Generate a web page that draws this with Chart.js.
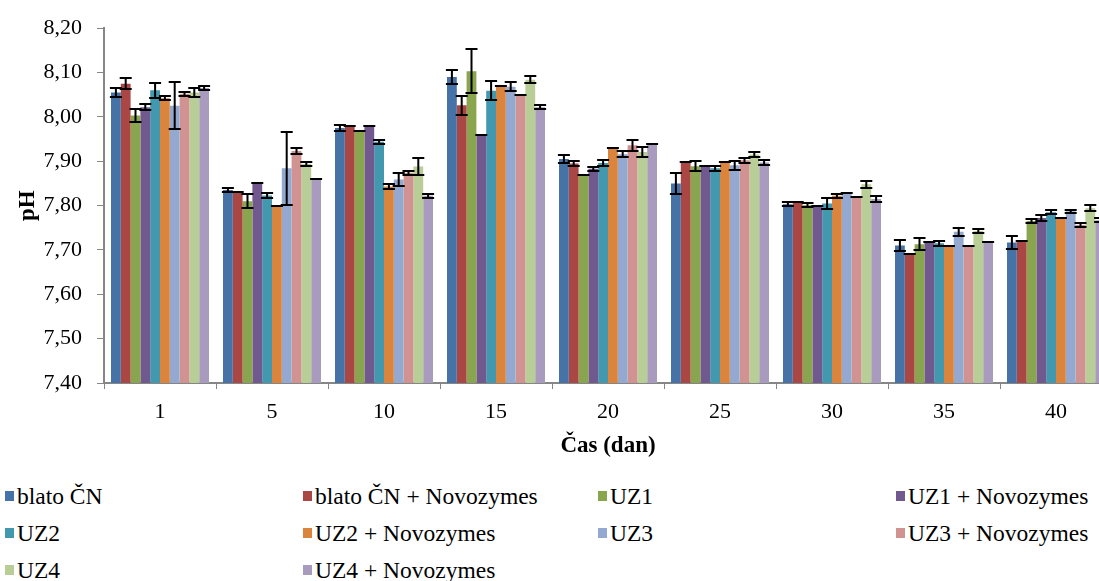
<!DOCTYPE html>
<html>
<head>
<meta charset="utf-8">
<script src="https://cdn.jsdelivr.net/npm/chart.js@4/dist/chart.umd.min.js"></script>
<style>
  html, body { margin: 0; padding: 0; background: #fff; overflow: hidden; }
  #wrap { position: absolute; left: 0; top: 0; width: 1112px; height: 470px; }
  .lg { position: absolute; font-family: 'Liberation Serif', 'Times New Roman', serif; line-height: 24px; color: #000; white-space: nowrap; }
  .mk { position: absolute; width: 9px; height: 10px; }
</style>
</head>
<body>
<div id="wrap"><canvas id="c"></canvas></div>
<div id="legend"></div>
<script>
// Sampling days
const days = ['1', '5', '10', '15', '20', '25', '30', '35', '40'];

// Series names
const seriesNames = ['blato ČN', 'blato ČN + Novozymes', 'UZ1', 'UZ1 + Novozymes', 'UZ2',
  'UZ2 + Novozymes', 'UZ3', 'UZ3 + Novozymes', 'UZ4', 'UZ4 + Novozymes'];

// Mean pH per day
const blatoCN      = [8.055, 7.835, 7.975, 8.090, 7.905, 7.850, 7.803, 7.710, 7.717];
const blatoCNNovo  = [8.075, 7.830, 7.979, 8.026, 7.895, 7.899, 7.809, 7.690, 7.720];
const uz1          = [8.003, 7.810, 7.968, 8.103, 7.868, 7.889, 7.801, 7.713, 7.765];
const uz1Novo      = [8.022, 7.850, 7.979, 7.959, 7.883, 7.889, 7.800, 7.719, 7.772];
const uz2          = [8.060, 7.823, 7.944, 8.059, 7.896, 7.884, 7.805, 7.715, 7.785];
const uz2Novo      = [8.042, 7.800, 7.843, 8.069, 7.929, 7.899, 7.822, 7.710, 7.771];
const uz3          = [8.025, 7.884, 7.859, 8.068, 7.916, 7.891, 7.829, 7.741, 7.787];
const uz3Novo      = [8.052, 7.923, 7.874, 8.049, 7.936, 7.902, 7.820, 7.710, 7.756];
const uz4          = [8.055, 7.894, 7.888, 8.084, 7.921, 7.915, 7.848, 7.743, 7.794];
const uz4Novo      = [8.065, 7.860, 7.822, 8.022, 7.939, 7.897, 7.815, 7.719, 7.767];

// Standard deviations
const errBlatoCN     = [0.011, 0.005, 0.006, 0.015, 0.010, 0.024, 0.005, 0.012, 0.015];
const errBlatoCNNovo = [0.012, 0.000, 0.000, 0.022, 0.006, 0.000, 0.000, 0.000, 0.000];
const errUz1         = [0.015, 0.016, 0.000, 0.050, 0.000, 0.011, 0.004, 0.013, 0.005];
const errUz1Novo     = [0.006, 0.000, 0.000, 0.000, 0.005, 0.000, 0.000, 0.000, 0.006];
const errUz2         = [0.017, 0.005, 0.005, 0.022, 0.006, 0.005, 0.012, 0.005, 0.005];
const errUz2Novo     = [0.005, 0.000, 0.006, 0.000, 0.000, 0.000, 0.005, 0.000, 0.000];
const errUz3         = [0.053, 0.082, 0.015, 0.010, 0.006, 0.010, 0.000, 0.009, 0.004];
const errUz3Novo     = [0.005, 0.006, 0.005, 0.000, 0.012, 0.006, 0.000, 0.000, 0.005];
const errUz4         = [0.011, 0.005, 0.020, 0.008, 0.012, 0.006, 0.008, 0.005, 0.007];
const errUz4Novo     = [0.004, 0.000, 0.005, 0.005, 0.000, 0.006, 0.006, 0.000, 0.005];

// Y axis range and step
const yMin = 7.4, yMax = 8.2, yStep = 0.1;

const values = [blatoCN, blatoCNNovo, uz1, uz1Novo, uz2, uz2Novo, uz3, uz3Novo, uz4, uz4Novo];
const errors = [errBlatoCN, errBlatoCNNovo, errUz1, errUz1Novo, errUz2, errUz2Novo, errUz3, errUz3Novo, errUz4, errUz4Novo];
const colors = ['#4572A7', '#AA4643', '#89A54E', '#71588F', '#4198AF',
  '#DB843D', '#93A9CF', '#D19392', '#B9CD96', '#A99BBD'];

const serif = "'Liberation Serif', 'Times New Roman', serif";

// Pick a font size so that a sample string spans the wanted width
const probe = document.createElement('canvas').getContext('2d');
function fitSize(text, width, weight, maxSize) {
  probe.font = (weight || 'normal') + ' 100px ' + serif;
  const s = 100 * width / probe.measureText(text).width;
  return Math.min(maxSize, Math.round(s * 2) / 2);
}
const tickSize   = fitSize('8,20', 40, 'normal', 22);
const titleSize  = fitSize('Čas (dan)', 97, 'bold', 23);
const legendSize = fitSize('blato ČN + Novozymes', 225, 'normal', 24);

// Draws ± error bars with caps on top of every bar
const errorBars = {
  id: 'errorBars',
  afterDatasetsDraw(chart) {
    const ctx = chart.ctx;
    const y = chart.scales.y;
    ctx.save();
    ctx.strokeStyle = '#000';
    ctx.lineWidth = 2;
    chart.data.datasets.forEach((ds, di) => {
      const meta = chart.getDatasetMeta(di);
      meta.data.forEach((bar, i) => {
        const v = ds.data[i], e = ds.errors[i];
        const yt = Math.round(y.getPixelForValue(v + e));
        const yb = Math.round(y.getPixelForValue(v - e));
        const x = bar.x, hw = 6;
        ctx.beginPath();
        ctx.moveTo(x, yt); ctx.lineTo(x, yb);
        ctx.moveTo(x - hw, yt); ctx.lineTo(x + hw, yt);
        ctx.moveTo(x - hw, yb); ctx.lineTo(x + hw, yb);
        ctx.stroke();
      });
    });
    ctx.restore();
  }
};

new Chart(document.getElementById('c'), {
  type: 'bar',
  data: {
    labels: days,
    datasets: seriesNames.map((name, i) => ({
      label: name,
      data: values[i],
      errors: errors[i],
      backgroundColor: colors[i],
      borderWidth: 0,
      categoryPercentage: 0.875,
      barPercentage: 1.0
    }))
  },
  options: {
    responsive: true,
    maintainAspectRatio: false,
    animation: false,
    layout: { padding: { top: 22, left: 0, right: 0, bottom: 0 } },
    plugins: { legend: { display: false }, tooltip: { enabled: false } },
    scales: {
      x: {
        grid: { offset: true, drawOnChartArea: false, drawTicks: true, tickLength: 6, tickColor: '#868686', lineWidth: 1 },
        border: { color: '#868686', width: 2 },
        ticks: { color: '#000', font: { family: serif, size: tickSize }, padding: 10, maxRotation: 0 },
        title: { display: true, text: 'Čas (dan)', color: '#000', font: { family: serif, size: titleSize, weight: 'bold' }, padding: { top: 0, bottom: 10 } },
        afterFit(scale) { scale.height = 87; }
      },
      y: {
        min: yMin, max: yMax,
        grid: { drawOnChartArea: false, drawTicks: true, tickLength: 7, tickColor: '#868686', lineWidth: 1 },
        border: { color: '#868686', width: 2 },
        ticks: {
          stepSize: yStep, color: '#000', font: { family: serif, size: tickSize }, padding: 15,
          callback: v => Number(v).toFixed(2).replace('.', ',')
        },
        title: { display: true, text: 'pH', color: '#000', font: { family: serif, size: titleSize, weight: 'bold' }, padding: { top: 14, bottom: 0 } },
        afterFit(scale) { scale.width = 104; }
      }
    }
  },
  plugins: [errorBars]
});

// Legend: four columns, three rows
const legend = document.getElementById('legend');
const colX = [5, 303, 598, 896];
const rowY = [496, 533, 570];
seriesNames.forEach((name, i) => {
  const cx = colX[i % 4], cy = rowY[Math.floor(i / 4)];
  const mk = document.createElement('div');
  mk.className = 'mk';
  mk.style.left = cx + 'px';
  mk.style.top = (cy - 5) + 'px';
  mk.style.background = colors[i];
  legend.appendChild(mk);
  const t = document.createElement('div');
  t.className = 'lg';
  t.style.left = (cx + 12) + 'px';
  t.style.top = (cy - 12) + 'px';
  t.style.fontSize = legendSize + 'px';
  t.textContent = name;
  legend.appendChild(t);
});
</script>
</body>
</html>
